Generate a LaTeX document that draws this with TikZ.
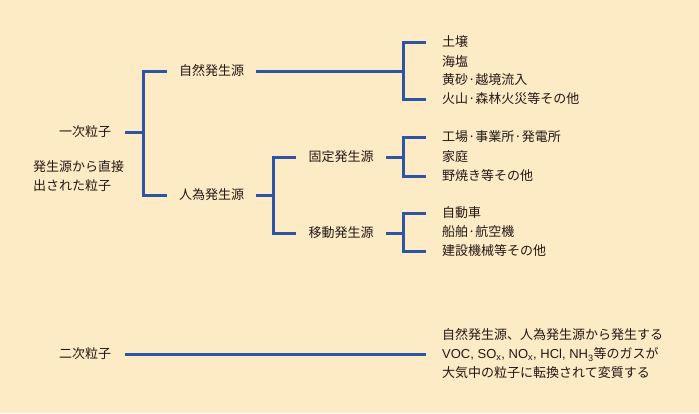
\documentclass[tikz,border=0pt]{standalone}
\usepackage{fontspec}
\newfontfamily\jpfont{Noto Sans CJK JP}
\newfontfamily\latfont{Liberation Sans}
\usepackage{xcolor}
\usetikzlibrary{calc}
\definecolor{bgpeach}{HTML}{FDEBC6}
\definecolor{linkblue}{HTML}{2E54A6}
\definecolor{txtdark}{HTML}{231815}
\tikzset{
  lbl/.style={inner ysep=0pt,text=txtdark,
              font=\jpfont\fontsize{13}{19}\selectfont},
  root/.style={lbl,inner xsep=14pt},
  cat/.style={lbl,inner xsep=12pt},
  leaf/.style={lbl,inner xsep=16pt,anchor=west},
  note/.style={lbl,inner xsep=0pt,align=left,anchor=west},
  link/.style={draw=linkblue,line width=3pt},
}

\begin{document}
\begin{tikzpicture}[x=1pt,y=-1pt]
\useasboundingbox[fill=bgpeach] (0,0) rectangle (699,413);
% spine positions of the brackets
\coordinate (sp1) at (143,0);
\coordinate (sp2) at (403,0);
\coordinate (sp3) at (273,0);
% primary particles
\node[root] (prim) at (85,132) {一次粒子};
\node[note] (primnote) at (33,176.5) {発生源から直接\\出された粒子};
% natural and anthropogenic sources
\node[cat] (nat)  at (211.5,71)  {自然発生源};
\node[cat] (anth) at (211.5,195) {人為発生源};
\node[cat] (fixed) at (341,157) {固定発生源};
\node[cat] (mobile) at (341,233) {移動発生源};
% leaves: natural
\node[leaf] (soil)    at (426,42) {土壌};
\node[leaf] (seasalt) at (426,62) {海塩};
\node[leaf] (dust)    at (426,80) {黄砂·越境流入};
\node[leaf] (volcano) at (426,99) {火山·森林火災等その他};
% leaves: fixed sources
\node[leaf] (factory) at (426,137) {工場·事業所·発電所};
\node[leaf] (home)    at (426,157) {家庭};
\node[leaf] (burning) at (426,176) {野焼き等その他};
% leaves: mobile sources
\node[leaf] (car)     at (426,213) {自動車};
\node[leaf] (ship)    at (426,232) {船舶·航空機};
\node[leaf] (machine) at (426,251) {建設機械等その他};
% secondary particles
\node[root] (sec) at (85,354) {二次粒子};
\node[leaf,align=left] (secnote) at (426,354) {自然発生源、人為発生源から発生する\\
  {\latfont VOC, SO\textsubscript{x}, NO\textsubscript{x}, HCl, NH\textsubscript{3}}等のガスが\\
  大気中の粒子に転換されて変質する};
% brackets
\draw[link] (prim.east) -- (prim.east -| sp1);
\draw[link] (nat.west) -- (nat.west -| sp1) -- (anth.west -| sp1) -- (anth.west);
\draw[link] (nat.east) -- (nat.east -| sp2);
\draw[link] (soil.west) -- (soil.west -| sp2) -- (volcano.west -| sp2) -- (volcano.west);
\draw[link] (anth.east) -- (anth.east -| sp3);
\draw[link] (fixed.west) -- (fixed.west -| sp3) -- (mobile.west -| sp3) -- (mobile.west);
\draw[link] (fixed.east) -- (fixed.east -| sp2);
\draw[link] (factory.west) -- (factory.west -| sp2) -- (burning.west -| sp2) -- (burning.west);
\draw[link] (mobile.east) -- (mobile.east -| sp2);
\draw[link] (car.west) -- (car.west -| sp2) -- (machine.west -| sp2) -- (machine.west);
\draw[link] (sec.east) -- (secnote.west);
\end{tikzpicture}
\end{document}
